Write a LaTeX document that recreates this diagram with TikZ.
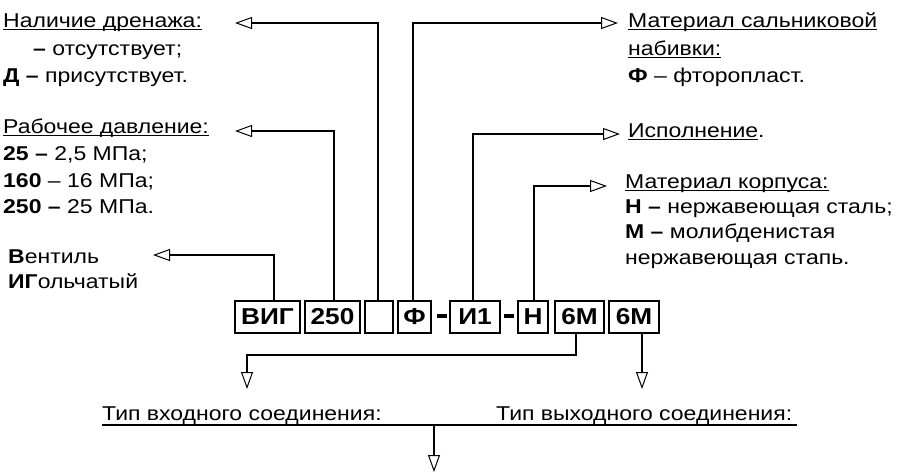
\documentclass[tikz,border=0pt]{standalone}
\usepackage{fontspec}
\setmainfont{Liberation Sans}[FakeStretch=1.15]
\newfontfamily\boxfont{Liberation Sans}[FakeStretch=1.14]
\usetikzlibrary{arrows.meta,calc}
\newcommand{\ulx}[1]{\setbox0\hbox{#1}\rlap{\rule[-3pt]{\wd0}{1pt}}\box0}
\begin{document}
\begin{tikzpicture}[x=1pt,y=-1pt,
  txt/.style={anchor=base west,inner sep=0pt,font=\fontsize{20}{24}\selectfont},
  codebox/.style={draw,line width=1.2pt,minimum height=32pt,inner sep=0pt,font=\fontsize{23}{26}\boxfont\bfseries},
  dashbox/.style={fill=black,minimum width=10pt,minimum height=4pt,inner sep=0pt},
  conn/.style={line width=1.1pt},
  arr/.style={conn,-{Triangle[open,length=17pt,width=12pt,line width=1pt]}}]
\useasboundingbox (0,0) rectangle (897,475);
% code boxes
\node[codebox,minimum width=65pt] (vig) at (267.5,317) {ВИГ};
\node[codebox,minimum width=55pt] (pr) at (332.5,317) {250};
\node[codebox,minimum width=28pt] (dr) at (379,317) {};
\node[codebox,minimum width=33pt] (fb) at (414.5,317) {Ф};
\node[dashbox] (d1) at (441.5,316) {};
\node[codebox,minimum width=50pt] (isp) at (475,317) {И1};
\node[dashbox] (d2) at (508.5,316) {};
\node[codebox,minimum width=30pt] (kor) at (533,317) {Н};
\node[codebox,minimum width=49pt] (vin) at (579.5,317) {6М};
\node[codebox,minimum width=50pt] (vout) at (634,317) {6М};
% left texts
\node[txt] (t1a) at (3,27) {\ulx{Наличие дренажа:}};
\node[txt] (t1b) at (33,55) {\textbf{–} отсутствует;};
\node[txt] (t1c) at (3,82) {\textbf{Д –} присутствует.};
\node[txt] (t2a) at (3,133) {\ulx{Рабочее давление:}};
\node[txt] (t2b) at (3,160) {\textbf{25 –} 2,5 МПа;};
\node[txt] (t2c) at (3,187) {\textbf{160} – 16 МПа;};
\node[txt] (t2d) at (3,213) {\textbf{250 –} 25 МПа.};
\node[txt] (t3a) at (8,263) {\textbf{В}ентиль};
\node[txt] (t3b) at (8,288) {\textbf{ИГ}ольчатый};
% right texts
\node[txt] (r1a) at (628,27) {\ulx{Материал сальниковой}};
\node[txt] (r1b) at (628,55) {\ulx{набивки:}};
\node[txt] (r1c) at (628,82) {\textbf{Ф} – фторопласт.};
\node[txt] (r2a) at (628,137) {\ulx{Исполнение}.};
\node[txt] (r3a) at (625,188) {\ulx{Материал корпуса:}};
\node[txt] (r3b) at (625,213) {\textbf{Н –} нержавеющая сталь;};
\node[txt] (r3c) at (625,238) {\textbf{М –} молибденистая};
\node[txt] (r3d) at (625,264) {нержавеющая стапь.};
% bottom texts
\node[txt] (bin) at (102,420) {Тип входного соединения:};
\node[txt] (bout) at (496,420) {Тип выходного соединения:};
% coordinates
\coordinate (tipV) at (153,255);
\coordinate (tipP) at (235,131);
\coordinate (tipD) at (235,23);
\coordinate (tipF) at (618,23);
\coordinate (tipI) at (620,134);
\coordinate (tipK) at (607,186);
\coordinate (bend) at (247,355);
\coordinate (tipIn) at (247,389);
\coordinate (tipOut) at (642,389);
\coordinate (ulA) at (102,425);
\coordinate (ulB) at (797,425);
\coordinate (ulM) at (434,425);
\coordinate (tipB) at (434,472);
% connectors
\draw[arr] ([xshift=6.5pt]vig.north) |- (tipV);
\draw[arr] ([xshift=1.5pt]pr.north) |- (tipP);
\draw[arr] ([xshift=-1pt]dr.north) |- (tipD);
\draw[arr] ([xshift=-1.5pt]fb.north) |- (tipF);
\draw[arr] ([xshift=-2pt]isp.north) |- (tipI);
\draw[arr] ([xshift=1pt]kor.north) |- (tipK);
\draw[arr] ([xshift=-3.5pt]vin.south) |- (bend) -- (tipIn);
\draw[arr] ([xshift=8pt]vout.south) -- (tipOut);
\draw[conn] (ulA) -- (ulB);
\draw[arr] (ulM) -- (tipB);
\end{tikzpicture}
\end{document}
